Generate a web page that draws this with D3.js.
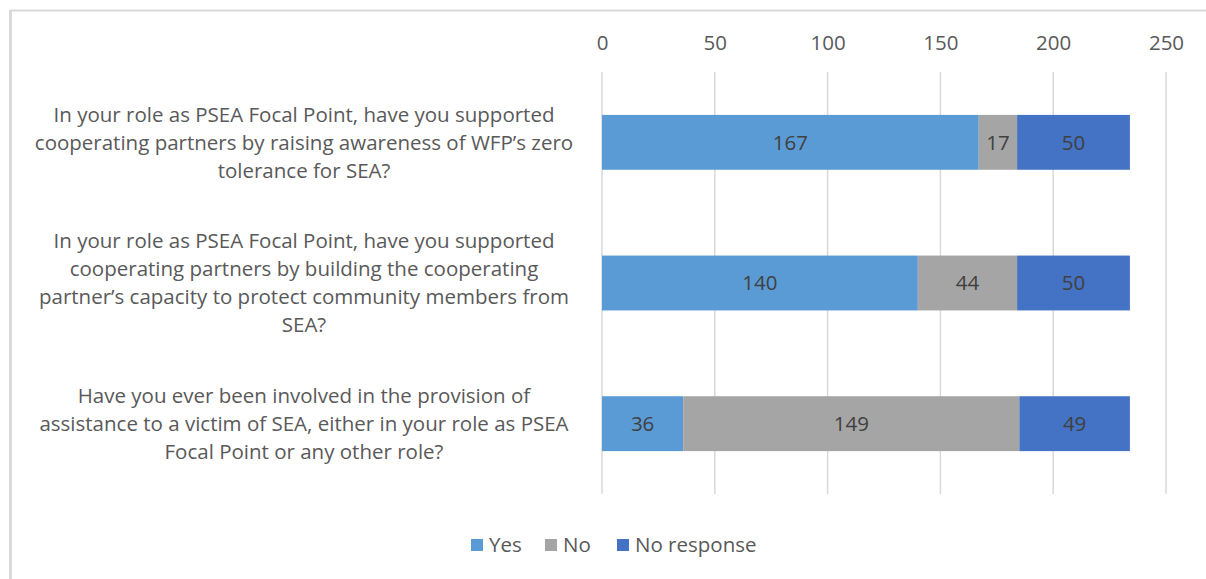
<!DOCTYPE html>
<html>
<head>
<meta charset="utf-8">
<script src="https://cdn.jsdelivr.net/npm/d3@7"></script>
<style>
  html, body { margin: 0; padding: 0; background: #fff; }
  svg { display: block; }
  text { font-family: "Open Sans", Lato, sans-serif; }
</style>
</head>
<body>
<svg id="chart" width="1206" height="579"></svg>
<script>
// Survey questions, each split into its printed lines
const questions = [
  ["In your role as PSEA Focal Point, have you supported",
   "cooperating partners by raising awareness of WFP\u2019s zero",
   "tolerance for SEA?"],
  ["In your role as PSEA Focal Point, have you supported",
   "cooperating partners by building the cooperating",
   "partner\u2019s capacity to protect community members from",
   "SEA?"],
  ["Have you ever been involved in the provision of",
   "assistance to a victim of SEA, either in your role as PSEA",
   "Focal Point or any other role?"]
];
const questionIds = ["q1", "q2", "q3"];

const seriesNames = ["Yes", "No", "No response"];
const yesValues = [167, 140, 36];
const noValues = [17, 44, 149];
const noResponseValues = [50, 50, 49];
const seriesColors = ["#5b9bd5", "#a5a5a5", "#4472c4"];

const tickValues = [0, 50, 100, 150, 200, 250];

const svg = d3.select("#chart");
const textColor = "#595959";
const fontSize = 20.5;

// chart frame (top and left edges)
svg.append("line").attr("x1", 10).attr("x2", 1206).attr("y1", 10.5).attr("y2", 10.5)
  .attr("stroke", "#d9d9d9").attr("stroke-width", 2);
svg.append("line").attr("x1", 10.5).attr("x2", 10.5).attr("y1", 10).attr("y2", 579)
  .attr("stroke", "#d9d9d9").attr("stroke-width", 3);

const x = d3.scaleLinear().domain([0, 250]).range([602, 1166]);
const y = d3.scaleBand().domain(questionIds).range([72, 494])
  .paddingInner(0.61).paddingOuter(0.305);

// gridlines
svg.append("g").selectAll("line").data(tickValues).join("line")
  .attr("x1", d => x(d)).attr("x2", d => x(d))
  .attr("y1", 72).attr("y2", 494)
  .attr("stroke", "#d9d9d9").attr("stroke-width", 1.5);

// top axis labels
const axis = d3.axisTop(x).tickValues(tickValues).tickSize(0).tickPadding(0);
const axG = svg.append("g").attr("transform", "translate(0,50)").call(axis);
axG.select(".domain").remove();
axG.selectAll("text").attr("fill", textColor).attr("font-size", fontSize)
  .attr("font-family", "'Open Sans', sans-serif");

// stacked data
const rows = questionIds.map((id, i) => ({
  id, "Yes": yesValues[i], "No": noValues[i], "No response": noResponseValues[i]
}));
const stacked = d3.stack().keys(seriesNames)(rows);

const layers = svg.append("g").selectAll("g").data(stacked).join("g")
  .attr("fill", (d, i) => seriesColors[i]);

layers.selectAll("rect").data(d => d).join("rect")
  .attr("x", d => x(d[0]))
  .attr("width", d => x(d[1]) - x(d[0]))
  .attr("y", d => y(d.data.id))
  .attr("height", y.bandwidth());

// value labels
layers.selectAll("text").data(d => d).join("text")
  .attr("x", d => (x(d[0]) + x(d[1])) / 2)
  .attr("y", d => y(d.data.id) + y.bandwidth() / 2)
  .attr("dy", "0.35em")
  .attr("text-anchor", "middle")
  .attr("fill", "#404040")
  .attr("font-size", fontSize)
  .text(d => d[1] - d[0]);

// category labels
const lineH = 28;
const labelG = svg.append("g");
questionIds.forEach((id, i) => {
  const lines = questions[i];
  const cy = y(id) + y.bandwidth() / 2;
  const t = labelG.append("text")
    .attr("text-anchor", "middle")
    .attr("fill", textColor)
    .attr("font-size", fontSize);
  lines.forEach((ln, j) => {
    t.append("tspan")
      .attr("x", 304)
      .attr("y", cy + (j - (lines.length - 1) / 2) * lineH)
      .attr("dy", "0.35em")
      .text(ln);
  });
});

// legend
const legendX = [471, 545, 617];
const leg = svg.append("g").selectAll("g").data(seriesNames).join("g")
  .attr("transform", (d, i) => `translate(${legendX[i]},545)`);
leg.append("rect").attr("x", 0).attr("y", -6).attr("width", 12).attr("height", 12)
  .attr("fill", (d, i) => seriesColors[i]);
leg.append("text").attr("x", 18).attr("dy", "0.35em")
  .attr("fill", textColor).attr("font-size", fontSize).text(d => d);
</script>
</body>
</html>
